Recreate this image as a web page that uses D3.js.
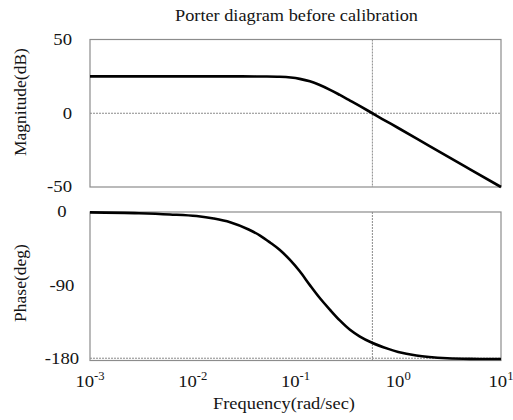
<!DOCTYPE html>
<html>
<head>
<meta charset="utf-8">
<script src="https://cdn.jsdelivr.net/npm/d3@7"></script>
<style>
  html, body { margin: 0; padding: 0; background: #fff; }
  svg { display: block; font-family: "Liberation Serif", "Times New Roman", serif; }
  text { font-family: "Liberation Serif", "Times New Roman", serif; }
</style>
</head>
<body>
<svg id="chart" width="513" height="420"></svg>
<script>
// ---- data ----
const titleText = "Porter diagram before calibration";
const xLabelText = "Frequency(rad/sec)";
const magLabelText = "Magnitude(dB)";
const phaseLabelText = "Phase(deg)";

const freqTicks = [1e-3, 1e-2, 1e-1, 1e0, 1e1];
const freqTickExponents = ["-3", "-2", "-1", "0", "1"];
const magTicks = [50, 0, -50];
const phaseTicks = [0, -90, -180];
const crossoverFreq = 0.56;

const magFreq = [0.001, 0.03, 0.05, 0.07, 0.09, 0.11, 0.138, 0.17, 0.217, 0.27, 0.339, 0.425, 0.56, 0.7, 1, 2, 5, 10];
const magDb   = [25, 25, 24.9, 24.7, 24.2, 23.3, 21.65, 19.35, 15.9, 12.4, 8.6, 4.8, 0, -3.9, -10.0, -22.1, -38, -50];

const phaseFreq = [0.001, 0.003, 0.006, 0.0109, 0.016, 0.0231, 0.035, 0.0452, 0.0565, 0.07, 0.0884, 0.11, 0.138, 0.17, 0.217, 0.27, 0.339, 0.42, 0.556, 0.8, 1.0, 1.5, 2, 3, 5, 10];
const phaseDeg  = [-0.5, -1.5, -3, -5, -8, -12.5, -21.5, -29, -37.5, -46.5, -59, -73, -90, -105, -120.5, -133.5, -145, -153, -161, -168.5, -172.2, -176.6, -178.5, -180.1, -180.8, -181];

// ---- layout ----
const svg = d3.select("#chart");
const left = 90, right = 501;
const magTop = 39.5, magBottom = 187;
const phTop = 212, phBottom = 360.5;

const x = d3.scaleLog().domain([1e-3, 1e1]).range([left, right]);
const yMag = d3.scaleLinear().domain([-50, 50]).range([magBottom, magTop]);
const yPh = d3.scaleLinear().domain([-182.8, 0]).range([phBottom, phTop]);

const frameColor = "#8c8c8c";
const gridColor = "#8a8a8a";
const textColor = "#151515";
const stretch = 1.1;   // reference text is slightly wide

// title
svg.append("text").attr("x", 296.5).attr("y", 21).attr("text-anchor", "middle")
  .attr("font-size", 17).attr("fill", textColor)
  .attr("textLength", 243).attr("lengthAdjust", "spacingAndGlyphs")
  .text(titleText);

function panel(yScale, top, bottom, hLineVal, ticks, series, label, labelY, tickX, tickAnchor) {
  const g = svg.append("g");
  // grid lines
  g.append("line").attr("x1", left).attr("x2", right)
    .attr("y1", yScale(hLineVal)).attr("y2", yScale(hLineVal))
    .attr("stroke", gridColor).attr("stroke-width", 1).attr("stroke-dasharray", "2,1");
  g.append("line").attr("x1", x(crossoverFreq)).attr("x2", x(crossoverFreq))
    .attr("y1", top).attr("y2", bottom)
    .attr("stroke", gridColor).attr("stroke-width", 1).attr("stroke-dasharray", "2,1");
  // frame
  g.append("rect").attr("x", left).attr("y", top).attr("width", right - left).attr("height", bottom - top)
    .attr("fill", "none").attr("stroke", frameColor).attr("stroke-width", 1.2);
  // curve
  const line = d3.line().x(d => x(d[0])).y(d => yScale(d[1])).curve(d3.curveMonotoneX);
  g.append("path").datum(series).attr("d", line)
    .attr("fill", "none").attr("stroke", "#000").attr("stroke-width", 2.6)
    .attr("stroke-linejoin", "round").attr("stroke-linecap", "butt");
  // y ticks
  const yAxis = d3.axisLeft(yScale).tickValues(ticks).tickSize(0).tickPadding(0)
    .tickFormat(d => String(d));
  const ga = g.append("g").call(yAxis)
    .attr("font-family", "Liberation Serif, serif").attr("font-size", 17);
  ga.select(".domain").remove();
  ga.selectAll(".tick").attr("transform", d => `translate(${tickX},${yScale(d)}) scale(${stretch},1)`);
  ga.selectAll("text").attr("x", 0).attr("fill", textColor).attr("text-anchor", tickAnchor);
  // y label
  svg.append("text").attr("transform", `translate(26,${labelY}) rotate(-90)`)
    .attr("text-anchor", "middle").attr("font-size", 17.5).attr("fill", textColor).text(label);
}

panel(yMag, magTop, magBottom, 0, magTicks, magFreq.map((f, i) => [f, magDb[i]]), magLabelText, 102, 72, "end");
panel(yPh, phTop, phBottom, -180, phaseTicks, phaseFreq.map((f, i) => [f, phaseDeg[i]]), phaseLabelText, 283, 62, "middle");

// x tick labels (10^n)
const xt = svg.append("g");
freqTicks.forEach((f, i) => {
  const t = xt.append("text")
    .attr("transform", `translate(${x(f)},387) scale(${stretch},1)`)
    .attr("text-anchor", "middle").attr("font-size", 17).attr("fill", textColor);
  t.append("tspan").text("10");
  t.append("tspan").attr("dy", -7).attr("font-size", 11.5).text(freqTickExponents[i]);
});

// x label
svg.append("text").attr("x", 284).attr("y", 409).attr("text-anchor", "middle")
  .attr("font-size", 17).attr("fill", textColor)
  .attr("textLength", 142).attr("lengthAdjust", "spacingAndGlyphs")
  .text(xLabelText);
</script>
</body>
</html>
